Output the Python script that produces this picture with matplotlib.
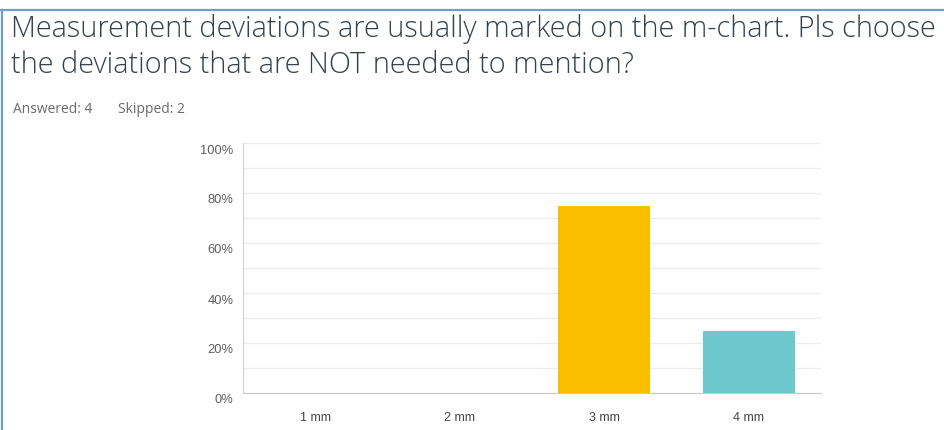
import matplotlib
matplotlib.use("Agg")
import matplotlib.pyplot as plt
import matplotlib.transforms as mtransforms
from matplotlib.lines import Line2D
import numpy as np

# survey results
categories = ["1 mm", "2 mm", "3 mm", "4 mm"]
percent = [0, 0, 75, 25]
bar_colors = ["#F9BE00", "#F9BE00", "#F9BE00", "#6CC8CC"]
yticks = [0, 20, 40, 60, 80, 100]
ytick_labels = ["0%", "20%", "40%", "60%", "80%", "100%"]

title_lines = ["Measurement deviations are usually marked on the m-chart. Pls choose",
               "the deviations that are NOT needed to mention?"]
answered = "Answered: 4"
skipped = "Skipped: 2"

W, H = 944, 431
fig = plt.figure(figsize=(W / 100, H / 100), dpi=100)
fig.patch.set_facecolor("white")

# frame around the question block
fig.add_artist(Line2D([0, 1], [1 - 10.5 / H, 1 - 10.5 / H], transform=fig.transFigure,
                      color="#6F9AD2", lw=1.6))
fig.add_artist(Line2D([1.5 / W, 1.5 / W], [0, 1 - 10.5 / H], transform=fig.transFigure,
                      color="#6F9AD2", lw=1.6))

for line, base in zip(title_lines, [37, 73]):
    fig.text(11 / W, 1 - base / H, line, fontsize=20.8, color="#36414c",
             family="Open Sans", fontweight="light", va="baseline")
fig.text(13 / W, 1 - 113 / H, answered, fontsize=10, color="#6b6b6b",
         family="Open Sans", va="baseline")
fig.text(118 / W, 1 - 113 / H, skipped, fontsize=10, color="#6b6b6b",
         family="Open Sans", va="baseline")

ax = fig.add_axes([243 / W, (H - 394) / H, 578 / W, 250 / H])
x = np.arange(len(categories))
ax.bar(x, percent, width=0.64, color=bar_colors, zorder=3)

ax.set_xlim(-0.5, len(categories) - 0.5)
ax.set_ylim(0, 100)
ax.set_yticks(yticks)
ax.set_yticklabels(ytick_labels, family="Liberation Sans", fontsize=9.3, color="#5e5e5e")
ax.set_yticks(np.arange(10, 100, 20), minor=True)
ax.set_xticks(x)
ax.set_xticklabels(categories, family="Liberation Sans", fontsize=9, color="#444444")
ax.tick_params(axis="both", which="both", length=0)
ax.tick_params(axis="y", pad=7)
ax.tick_params(axis="x", pad=13)

ax.grid(axis="y", which="both", color="#ececec", lw=1, zorder=0)
for side in ["top", "right"]:
    ax.spines[side].set_visible(False)
ax.spines["left"].set_color("#d0d0d0")
ax.spines["bottom"].set_color("#c8c8c8")

# y labels sit a little below their gridlines
shift = mtransforms.ScaledTranslation(0, -5 / 100, fig.dpi_scale_trans)
for lab in ax.get_yticklabels():
    lab.set_transform(lab.get_transform() + shift)

fig.savefig("out.png", dpi=100)
